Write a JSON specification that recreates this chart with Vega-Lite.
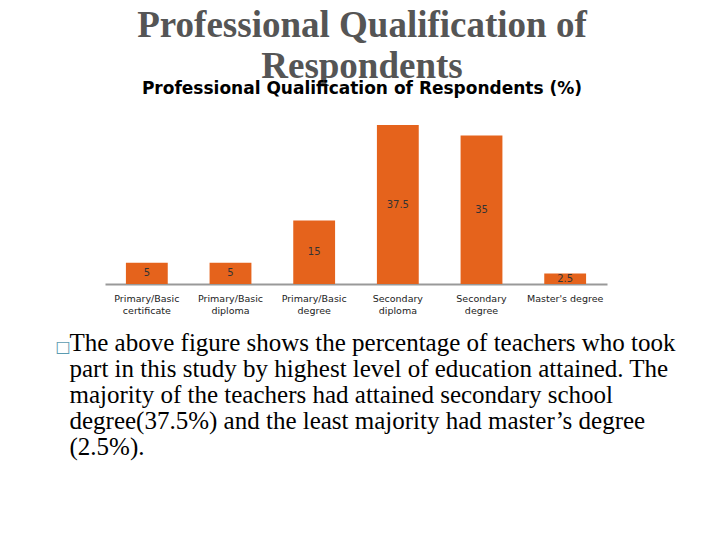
{
  "$schema": "https://vega.github.io/schema/vega-lite/v6.json",
  "autosize": {"type": "none"},
  "width": 502,
  "height": 159,
  "padding": {"left": 105, "top": 125, "right": 113, "bottom": 256},
  "background": "white",
  "title": {
    "text": ["Professional Qualification of", "Respondents"],
    "subtitle": "Professional Qualification of Respondents (%)",
    "font": "Liberation Serif",
    "fontSize": 37,
    "fontWeight": "bold",
    "color": "#555555",
    "lineHeight": 41,
    "subtitleFont": "DejaVu Sans",
    "subtitleFontSize": 17,
    "subtitleFontWeight": "bold",
    "subtitleColor": "#000000",
    "subtitlePadding": -5,
    "anchor": "middle",
    "frame": "group",
    "offset": 27,
    "dx": 6
  },
  "config": {"view": {"stroke": null}},
  "data": {
    "values": [
      {"level": "Primary/Basic certificate", "pct": 5},
      {"level": "Primary/Basic diploma", "pct": 5},
      {"level": "Primary/Basic degree", "pct": 15},
      {"level": "Secondary diploma", "pct": 37.5},
      {"level": "Secondary degree", "pct": 35},
      {"level": "Master's degree", "pct": 2.5}
    ]
  },
  "encoding": {
    "x": {
      "field": "level",
      "type": "nominal",
      "sort": null,
      "scale": {"paddingInner": 0.5, "paddingOuter": 0.25},
      "axis": {
        "domain": true,
        "domainColor": "#999999",
        "domainWidth": 2,
        "ticks": false,
        "grid": false,
        "labelAngle": 0,
        "labelFont": "DejaVu Sans",
        "labelFontSize": 9.5,
        "labelColor": "#222222",
        "labelPadding": 9,
        "labelLineHeight": 12,
        "labelExpr": "datum.value == \"Master's degree\" ? datum.value : split(datum.value, ' ')",
        "title": [
          "The above figure shows the percentage of teachers who took",
          "part in this study by highest level of education attained. The",
          "majority of the teachers had attained secondary school",
          "degree(37.5%) and the least majority had master’s degree",
          "(2.5%)."
        ],
        "titleFont": "Liberation Serif",
        "titleFontSize": 25,
        "titleFontWeight": "normal",
        "titleColor": "#000000",
        "titleAlign": "left",
        "titleAnchor": "start",
        "titleBaseline": "alphabetic",
        "titleLineHeight": 26,
        "titleX": -36,
        "titleY": 66
      }
    }
  },
  "layer": [
    {
      "mark": {"type": "bar", "color": "#E5631C"},
      "encoding": {
        "y": {
          "field": "pct",
          "type": "quantitative",
          "scale": {"domain": [0, 37.5], "nice": false},
          "axis": {
            "domain": false,
            "ticks": false,
            "labels": false,
            "grid": false,
            "title": "□",
            "titleAngle": 0,
            "titleX": -50,
            "titleY": 226,
            "titleFont": "DejaVu Sans",
            "titleFontSize": 16,
            "titleFontWeight": "normal",
            "titleColor": "#5B9BB0",
            "titleAlign": "left",
            "titleBaseline": "alphabetic"
          }
        }
      }
    },
    {
      "transform": [{"calculate": "datum.pct / 2", "as": "mid"}],
      "mark": {"type": "text", "font": "DejaVu Sans", "fontSize": 10, "color": "#333333", "baseline": "middle"},
      "encoding": {
        "y": {"field": "mid", "type": "quantitative"},
        "text": {"field": "pct", "type": "nominal"}
      }
    }
  ]
}
